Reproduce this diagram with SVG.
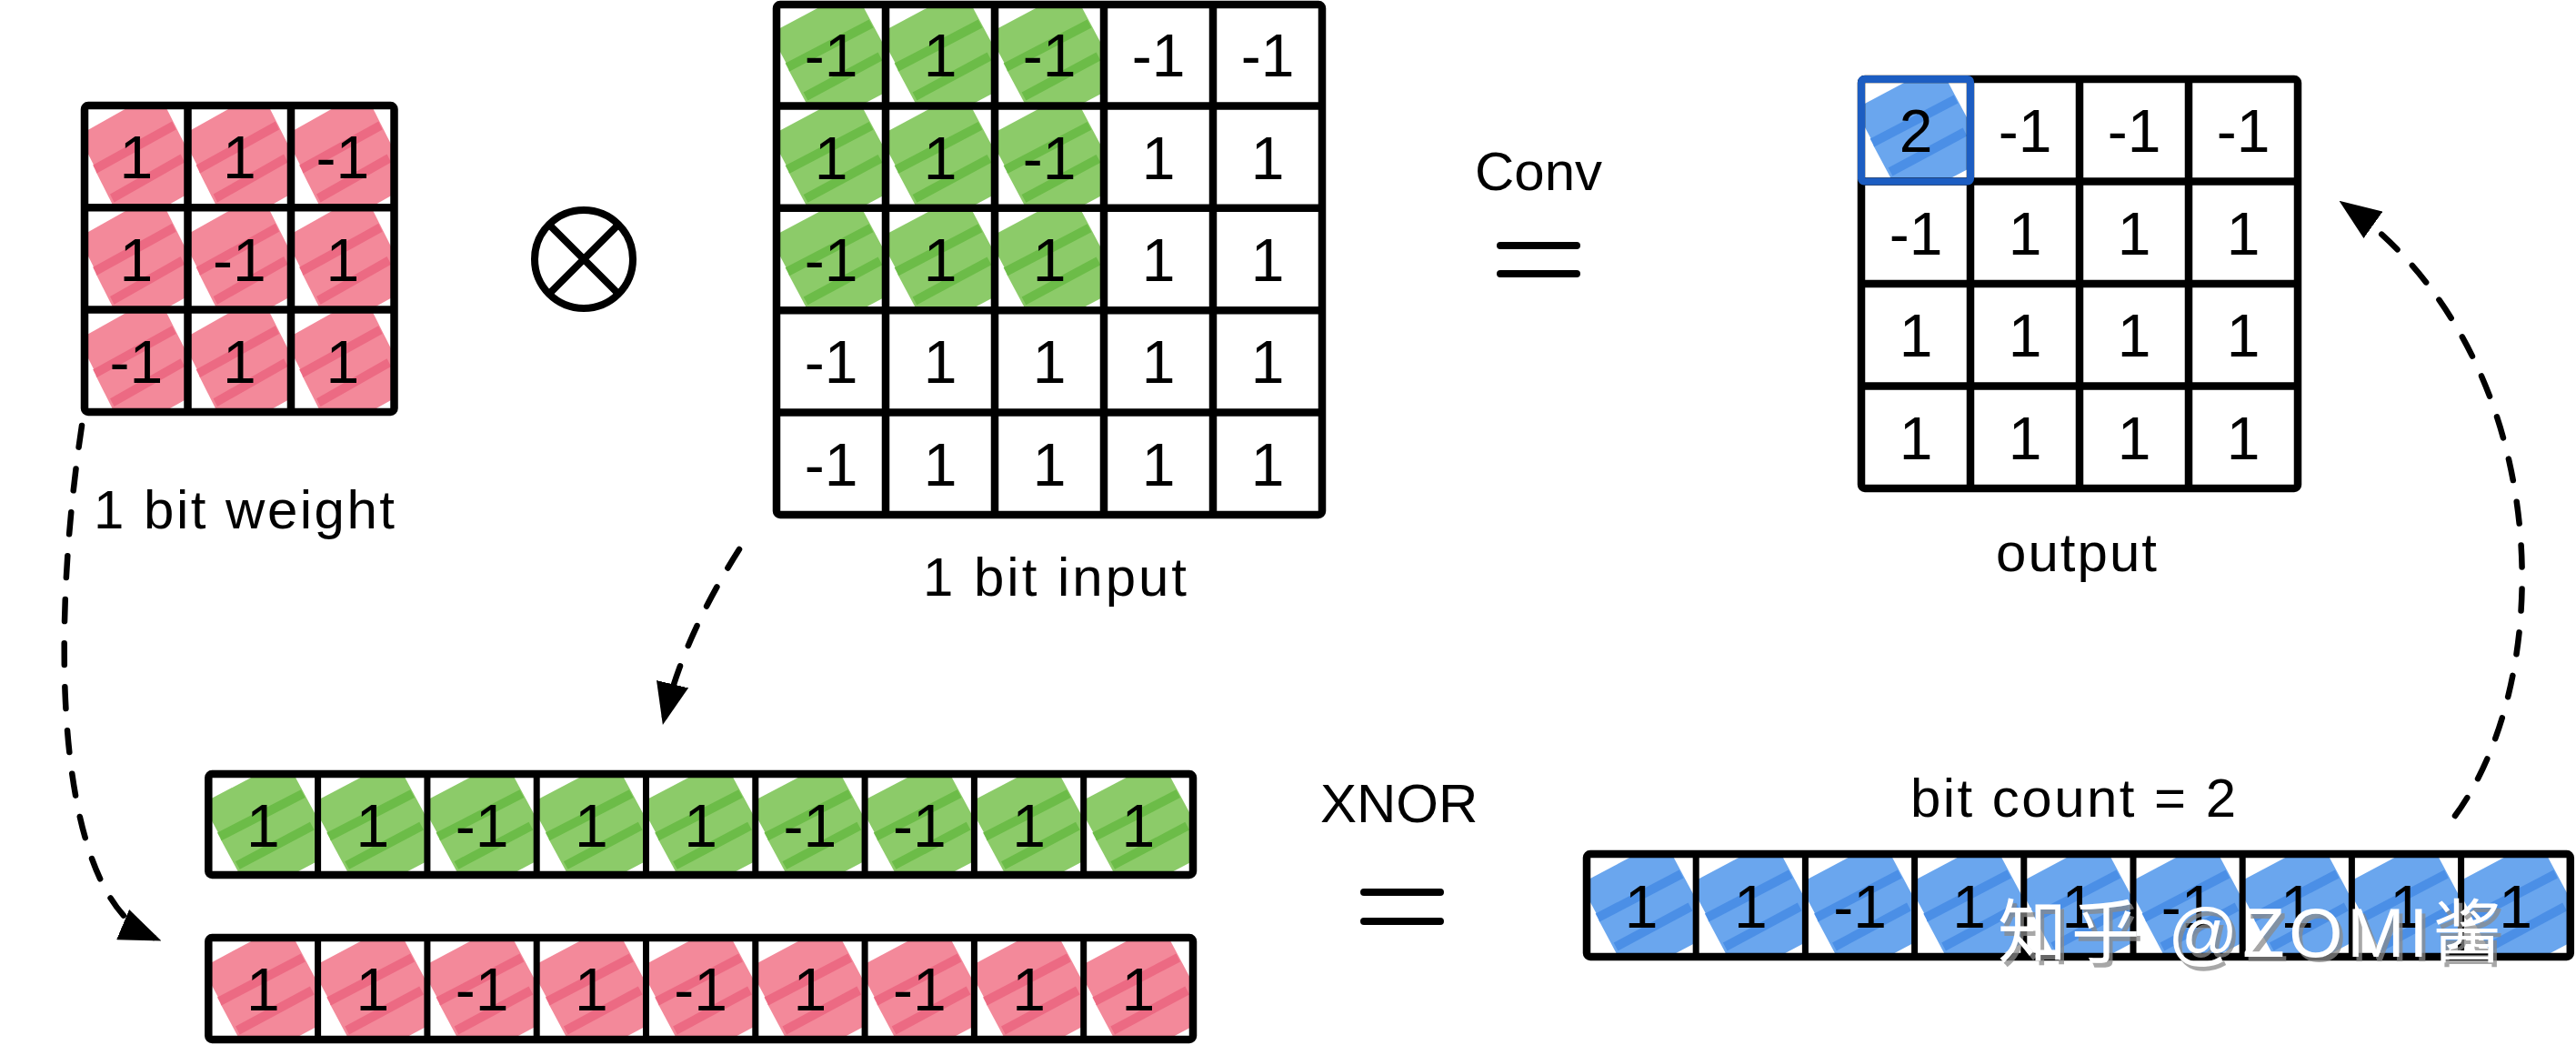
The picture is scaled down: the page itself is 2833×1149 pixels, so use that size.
<svg xmlns="http://www.w3.org/2000/svg" width="2833" height="1149" viewBox="0 0 2833 1149">
<style>
.n{font-family:"Liberation Sans",Arial,sans-serif;font-size:66px;text-anchor:middle;fill:#000}
.lbl{font-family:"Liberation Sans",Arial,sans-serif;font-size:60px;fill:#000}
.grid{fill:none;stroke:#000;stroke-width:8.5;stroke-linejoin:round}
.div{fill:none;stroke:#000;stroke-width:7}
.pk{fill:#f3899a;color:#ec6a83}
.gr{fill:#8ccb69;color:#6cbc48}
.bl{fill:#6aa6ee;color:#4b8fe6}
.dash{fill:none;stroke:#000;stroke-width:6.5;stroke-linecap:round;stroke-dasharray:24 24}
.eq{stroke:#000;stroke-width:8;stroke-linecap:round;fill:none}
.wm{font-family:"Liberation Sans","Noto Sans CJK SC",sans-serif;font-size:76px}
</style>
<defs>
<clipPath id="cc"><rect x="0" y="0" width="120" height="113"/></clipPath>
<g id="blot" clip-path="url(#cc)">
<rect x="-52" y="-36" width="104" height="72" transform="translate(56,40) rotate(-28)"/>
<rect x="-52" y="-36" width="104" height="72" transform="translate(76,80) rotate(-28)"/>
<line x1="12" y1="70" x2="104" y2="22" stroke="currentColor" stroke-width="10"/>
<line x1="32" y1="102" x2="114" y2="58" stroke="currentColor" stroke-width="10"/>
</g>
<marker id="ah" viewBox="0 0 10 10" refX="8" refY="5" markerWidth="46" markerHeight="36" markerUnits="userSpaceOnUse" orient="auto" preserveAspectRatio="none">
<path d="M0 0 L10 5 L0 10 Z" fill="#000"/>
</marker>
</defs>
<rect width="2833" height="1149" fill="#fff"/>

<g id="weight-grid">
<use href="#blot" class="pk" transform="translate(93,116) scale(0.946,1)"/>
<use href="#blot" class="pk" transform="translate(206.5,116) scale(0.946,1)"/>
<use href="#blot" class="pk" transform="translate(320,116) scale(0.946,1)"/>
<use href="#blot" class="pk" transform="translate(93,228.3) scale(0.946,1)"/>
<use href="#blot" class="pk" transform="translate(206.5,228.3) scale(0.946,1)"/>
<use href="#blot" class="pk" transform="translate(320,228.3) scale(0.946,1)"/>
<use href="#blot" class="pk" transform="translate(93,340.6) scale(0.946,1)"/>
<use href="#blot" class="pk" transform="translate(206.5,340.6) scale(0.946,1)"/>
<use href="#blot" class="pk" transform="translate(320,340.6) scale(0.946,1)"/>
<rect class="grid" x="93" y="116" width="340.5" height="337" rx="4"/>
<path class="grid" d="M206.5 116V453M320 116V453M93 228.3H433.5M93 340.6H433.5"/>
<text class="n" x="149.75" y="196">1</text><text class="n" x="263.25" y="196">1</text><text class="n" x="376.75" y="196">-1</text>
<text class="n" x="149.75" y="308.5">1</text><text class="n" x="263.25" y="308.5">-1</text><text class="n" x="376.75" y="308.5">1</text>
<text class="n" x="149.75" y="421">-1</text><text class="n" x="263.25" y="421">1</text><text class="n" x="376.75" y="421">1</text>
<text class="lbl" x="103" y="581" textLength="331" lengthAdjust="spacing">1 bit weight</text>
</g>

<g id="otimes">
<circle cx="642" cy="285" r="54" fill="none" stroke="#000" stroke-width="8"/>
<path d="M604 247L680 323M680 247L604 323" stroke="#000" stroke-width="8"/>
</g>

<g id="input-grid">
<use href="#blot" class="gr" transform="translate(854,4)"/>
<use href="#blot" class="gr" transform="translate(974,4)"/>
<use href="#blot" class="gr" transform="translate(1094,4)"/>
<use href="#blot" class="gr" transform="translate(854,116.4)"/>
<use href="#blot" class="gr" transform="translate(974,116.4)"/>
<use href="#blot" class="gr" transform="translate(1094,116.4)"/>
<use href="#blot" class="gr" transform="translate(854,228.8)"/>
<use href="#blot" class="gr" transform="translate(974,228.8)"/>
<use href="#blot" class="gr" transform="translate(1094,228.8)"/>
<rect class="grid" x="854" y="5" width="600" height="561" rx="4"/>
<path class="grid" d="M974 5V566M1094 5V566M1214 5V566M1334 5V566M854 116.4H1454M854 228.8H1454M854 341.2H1454M854 453.6H1454"/>
<text class="n" x="914" y="84.2">-1</text><text class="n" x="1034" y="84.2">1</text><text class="n" x="1154" y="84.2">-1</text><text class="n" x="1274" y="84.2">-1</text><text class="n" x="1394" y="84.2">-1</text>
<text class="n" x="914" y="196.6">1</text><text class="n" x="1034" y="196.6">1</text><text class="n" x="1154" y="196.6">-1</text><text class="n" x="1274" y="196.6">1</text><text class="n" x="1394" y="196.6">1</text>
<text class="n" x="914" y="309">-1</text><text class="n" x="1034" y="309">1</text><text class="n" x="1154" y="309">1</text><text class="n" x="1274" y="309">1</text><text class="n" x="1394" y="309">1</text>
<text class="n" x="914" y="421.4">-1</text><text class="n" x="1034" y="421.4">1</text><text class="n" x="1154" y="421.4">1</text><text class="n" x="1274" y="421.4">1</text><text class="n" x="1394" y="421.4">1</text>
<text class="n" x="914" y="533.8">-1</text><text class="n" x="1034" y="533.8">1</text><text class="n" x="1154" y="533.8">1</text><text class="n" x="1274" y="533.8">1</text><text class="n" x="1394" y="533.8">1</text>
<text class="lbl" x="1015" y="655" textLength="290" lengthAdjust="spacing">1 bit input</text>
</g>

<g id="conv">
<text class="lbl" x="1622" y="209">Conv</text>
<path class="eq" d="M1650 270H1734M1650 301H1734"/>
</g>

<g id="output-grid">
<use href="#blot" class="bl" transform="translate(2047,87)"/>
<rect class="grid" x="2047" y="87" width="480" height="450" rx="4"/>
<path class="grid" d="M2167 87V537M2287 87V537M2407 87V537M2047 199.5H2527M2047 312H2527M2047 424.5H2527"/>
<rect x="2047" y="87" width="120" height="112.5" rx="3" fill="none" stroke="#1c5dc2" stroke-width="8"/>
<text class="n" x="2107" y="167.3">2</text><text class="n" x="2227" y="167.3">-1</text><text class="n" x="2347" y="167.3">-1</text><text class="n" x="2467" y="167.3">-1</text>
<text class="n" x="2107" y="279.8">-1</text><text class="n" x="2227" y="279.8">1</text><text class="n" x="2347" y="279.8">1</text><text class="n" x="2467" y="279.8">1</text>
<text class="n" x="2107" y="392.3">1</text><text class="n" x="2227" y="392.3">1</text><text class="n" x="2347" y="392.3">1</text><text class="n" x="2467" y="392.3">1</text>
<text class="n" x="2107" y="504.8">1</text><text class="n" x="2227" y="504.8">1</text><text class="n" x="2347" y="504.8">1</text><text class="n" x="2467" y="504.8">1</text>
<text class="lbl" x="2195" y="628" textLength="177" lengthAdjust="spacing">output</text>
</g>

<g id="green-row">
<use href="#blot" class="gr" transform="translate(229.3,851) scale(1,0.985)"/>
<use href="#blot" class="gr" transform="translate(349.6,851) scale(1,0.985)"/>
<use href="#blot" class="gr" transform="translate(469.9,851) scale(1,0.985)"/>
<use href="#blot" class="gr" transform="translate(590.2,851) scale(1,0.985)"/>
<use href="#blot" class="gr" transform="translate(710.5,851) scale(1,0.985)"/>
<use href="#blot" class="gr" transform="translate(830.8,851) scale(1,0.985)"/>
<use href="#blot" class="gr" transform="translate(951.1,851) scale(1,0.985)"/>
<use href="#blot" class="gr" transform="translate(1071.4,851) scale(1,0.985)"/>
<use href="#blot" class="gr" transform="translate(1191.7,851) scale(1,0.985)"/>
<rect class="grid" x="229.3" y="851" width="1082.7" height="111" rx="4"/>
<path class="div" d="M349.6 851V962M469.9 851V962M590.2 851V962M710.5 851V962M830.8 851V962M951.1 851V962M1071.4 851V962M1191.7 851V962"/>
<text class="n" x="289.45" y="930.5">1</text><text class="n" x="409.75" y="930.5">1</text><text class="n" x="530.05" y="930.5">-1</text><text class="n" x="650.35" y="930.5">1</text><text class="n" x="770.65" y="930.5">1</text><text class="n" x="890.95" y="930.5">-1</text><text class="n" x="1011.25" y="930.5">-1</text><text class="n" x="1131.55" y="930.5">1</text><text class="n" x="1251.85" y="930.5">1</text>
</g>

<g id="pink-row">
<use href="#blot" class="pk" transform="translate(229.3,1031)"/>
<use href="#blot" class="pk" transform="translate(349.6,1031)"/>
<use href="#blot" class="pk" transform="translate(469.9,1031)"/>
<use href="#blot" class="pk" transform="translate(590.2,1031)"/>
<use href="#blot" class="pk" transform="translate(710.5,1031)"/>
<use href="#blot" class="pk" transform="translate(830.8,1031)"/>
<use href="#blot" class="pk" transform="translate(951.1,1031)"/>
<use href="#blot" class="pk" transform="translate(1071.4,1031)"/>
<use href="#blot" class="pk" transform="translate(1191.7,1031)"/>
<rect class="grid" x="229.3" y="1031" width="1082.7" height="112" rx="4"/>
<path class="div" d="M349.6 1031V1143M469.9 1031V1143M590.2 1031V1143M710.5 1031V1143M830.8 1031V1143M951.1 1031V1143M1071.4 1031V1143M1191.7 1031V1143"/>
<text class="n" x="289.45" y="1111">1</text><text class="n" x="409.75" y="1111">1</text><text class="n" x="530.05" y="1111">-1</text><text class="n" x="650.35" y="1111">1</text><text class="n" x="770.65" y="1111">-1</text><text class="n" x="890.95" y="1111">1</text><text class="n" x="1011.25" y="1111">-1</text><text class="n" x="1131.55" y="1111">1</text><text class="n" x="1251.85" y="1111">1</text>
</g>

<g id="xnor">
<text class="lbl" x="1452" y="904">XNOR</text>
<path class="eq" d="M1500 981H1584M1500 1013H1584"/>
</g>

<g id="blue-row">
<use href="#blot" class="bl" transform="translate(1745,939)"/>
<use href="#blot" class="bl" transform="translate(1865.2,939)"/>
<use href="#blot" class="bl" transform="translate(1985.4,939)"/>
<use href="#blot" class="bl" transform="translate(2105.6,939)"/>
<use href="#blot" class="bl" transform="translate(2225.8,939)"/>
<use href="#blot" class="bl" transform="translate(2346,939)"/>
<use href="#blot" class="bl" transform="translate(2466.2,939)"/>
<use href="#blot" class="bl" transform="translate(2586.4,939)"/>
<use href="#blot" class="bl" transform="translate(2706.6,939)"/>
<rect class="grid" x="1745" y="939" width="1081.8" height="113" rx="4"/>
<path class="div" d="M1865.2 939V1052M1985.4 939V1052M2105.6 939V1052M2225.8 939V1052M2346 939V1052M2466.2 939V1052M2586.4 939V1052M2706.6 939V1052"/>
<text class="n" x="1805.1" y="1019.5">1</text><text class="n" x="1925.3" y="1019.5">1</text><text class="n" x="2045.5" y="1019.5">-1</text><text class="n" x="2165.7" y="1019.5">1</text><text class="n" x="2285.9" y="1019.5">1</text><text class="n" x="2406.1" y="1019.5">-1</text><text class="n" x="2526.3" y="1019.5">1</text><text class="n" x="2646.5" y="1019.5">1</text><text class="n" x="2766.7" y="1019.5">1</text>
<text class="lbl" x="2101" y="898" textLength="358" lengthAdjust="spacing">bit count = 2</text>
</g>

<g id="connectors">
<path class="dash" d="M90 468C55 700 60 985 169 1031" marker-end="url(#ah)"/>
<path class="dash" d="M813 604Q752 700 731 788" marker-end="url(#ah)"/>
<path class="dash" d="M2700 897C2815 740 2810 390 2580 226" marker-end="url(#ah)"/>
</g>

<g id="watermark">
<text class="wm" x="2201" y="1057" fill="#8a8a8a" fill-opacity="0.75" textLength="554" lengthAdjust="spacing">知乎 @ZOMI酱</text>
<text class="wm" x="2197" y="1052" fill="#fff" textLength="554" lengthAdjust="spacing">知乎 @ZOMI酱</text>
</g>
</svg>
